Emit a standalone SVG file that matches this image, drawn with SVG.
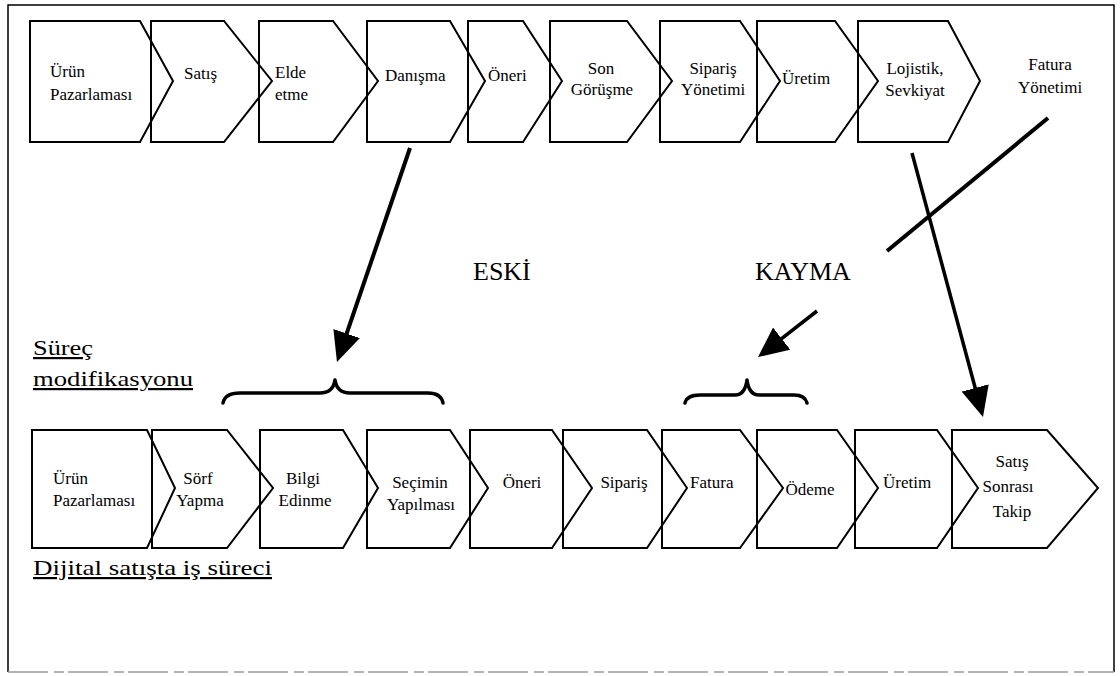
<svg xmlns="http://www.w3.org/2000/svg" width="1120" height="676" viewBox="0 0 1120 676">
<style>
.chev{fill:none;stroke:#000;stroke-width:2;stroke-linejoin:miter}
.t{font-family:"Liberation Serif","DejaVu Serif","Times New Roman",serif;font-size:17px;fill:#000}
.m{text-anchor:middle}
.big{font-family:"Liberation Serif","DejaVu Serif","Times New Roman",serif;font-size:26px;fill:#000}
.lab{font-family:"Liberation Serif","DejaVu Serif","Times New Roman",serif;font-size:22px;fill:#000;text-decoration:underline}
.arr{stroke:#000;fill:none;stroke-linecap:butt}
.brace{fill:none;stroke:#000;stroke-width:3.5;stroke-linecap:round;stroke-linejoin:round}
</style>
<defs>
<marker id="ah" markerUnits="userSpaceOnUse" markerWidth="30" markerHeight="28" refX="20" refY="14" orient="auto" viewBox="0 0 30 28">
<path d="M0,0 L30,14 L0,28 z" fill="#000"/>
</marker>
</defs>
<rect x="0" y="0" width="1120" height="676" fill="#fff"/>
<path d="M8,672 L8,5 L1114,5 L1114,672" fill="none" stroke="#000" stroke-width="1.5"/>
<line x1="8" y1="672" x2="1114" y2="672" stroke="#999" stroke-width="1.5" stroke-dasharray="40,6,10,4"/>

<!-- top row -->
<g id="t1"><path class="chev" d="M30,21 L140,21 L173,81 L140,142 L30,142 Z"/><text class="t" x="50" y="77">Ürün</text><text class="t" x="50" y="100">Pazarlaması</text></g>
<g id="t2"><path class="chev" d="M151,21 L224,21 L272,81 L224,142 L151,142 Z"/><text class="t" x="184" y="79">Satış</text></g>
<g id="t3"><path class="chev" d="M259,21 L333,21 L378,81 L333,142 L259,142 Z"/><text class="t" x="275" y="78">Elde</text><text class="t" x="275" y="100">etme</text></g>
<g id="t4"><path class="chev" d="M367,21 L450,21 L485,81 L450,142 L367,142 Z"/><text class="t" x="385" y="81">Danışma</text></g>
<g id="t5"><path class="chev" d="M468,21 L523,21 L562,81 L523,142 L468,142 Z"/><text class="t" x="488" y="81">Öneri</text></g>
<g id="t6"><path class="chev" d="M550,21 L627,21 L672,81 L627,142 L550,142 Z"/><text class="t m" x="601" y="74">Son</text><text class="t m" x="602" y="95">Görüşme</text></g>
<g id="t7"><path class="chev" d="M660,21 L740,21 L780,81 L740,142 L660,142 Z"/><text class="t m" x="713" y="74">Sipariş</text><text class="t m" x="713" y="95">Yönetimi</text></g>
<g id="t8"><path class="chev" d="M757,21 L835,21 L878,81 L835,142 L757,142 Z"/><text class="t" x="782" y="84">Üretim</text></g>
<g id="t9"><path class="chev" d="M858,21 L948,21 L980,81 L948,142 L858,142 Z"/><text class="t m" x="915" y="74">Lojistik,</text><text class="t m" x="915" y="96">Sevkiyat</text></g>
<g id="t10"><text class="t m" x="1050" y="70">Fatura</text><text class="t m" x="1050" y="93">Yönetimi</text></g>

<!-- bottom row -->
<g id="b1"><path class="chev" d="M32,430 L147,430 L175,488 L147,548 L32,548 Z"/><text class="t" x="53" y="484">Ürün</text><text class="t" x="53" y="506">Pazarlaması</text></g>
<g id="b2"><path class="chev" d="M152,430 L227,430 L273,488 L227,548 L152,548 Z"/><text class="t m" x="198" y="484">Sörf</text><text class="t m" x="200" y="506">Yapma</text></g>
<g id="b3"><path class="chev" d="M260,430 L343,430 L378,488 L343,548 L260,548 Z"/><text class="t m" x="303" y="484">Bilgi</text><text class="t m" x="305" y="506">Edinme</text></g>
<g id="b4"><path class="chev" d="M367,430 L450,430 L488,488 L450,548 L367,548 Z"/><text class="t m" x="420" y="488">Seçimin</text><text class="t m" x="421" y="510">Yapılması</text></g>
<g id="b5"><path class="chev" d="M470,430 L552,430 L592,488 L552,548 L470,548 Z"/><text class="t m" x="522" y="488">Öneri</text></g>
<g id="b6"><path class="chev" d="M563,430 L647,430 L687,488 L647,548 L563,548 Z"/><text class="t m" x="624" y="488">Sipariş</text></g>
<g id="b7"><path class="chev" d="M662,430 L740,430 L783,488 L740,548 L662,548 Z"/><text class="t" x="690" y="488">Fatura</text></g>
<g id="b8"><path class="chev" d="M757,430 L837,430 L878,488 L837,548 L757,548 Z"/><text class="t m" x="810" y="495">Ödeme</text></g>
<g id="b9"><path class="chev" d="M855,430 L937,430 L978,488 L937,548 L855,548 Z"/><text class="t" x="883" y="488">Üretim</text></g>
<g id="b10"><path class="chev" d="M952,430 L1047,430 L1098,488 L1047,548 L952,548 Z"/><text class="t m" x="1012" y="467">Satış</text><text class="t m" x="1008" y="492">Sonrası</text><text class="t m" x="1012" y="517">Takip</text></g>

<!-- labels -->
<g id="labels">
<text class="lab" x="33" y="355" textLength="60" lengthAdjust="spacingAndGlyphs">Süreç</text>
<text class="lab" x="33" y="386" textLength="160" lengthAdjust="spacingAndGlyphs">modifikasyonu</text>
<text class="lab" x="33" y="575" textLength="239" lengthAdjust="spacingAndGlyphs">Dijital satışta iş süreci</text>
<text class="big" x="473" y="280">ESKİ</text>
<text class="big" x="755" y="280">KAYMA</text>
</g>

<!-- braces -->
<g id="braces">
<path class="brace" d="M223,403 Q225,393 240,393 L320,393 Q333,393 335,380 Q337,393 350,393 L428,393 Q441,393 443,403"/>
<path class="brace" d="M685,403 Q687,395 700,395 L735,395 Q745,395 747,380 Q749,395 759,395 L794,395 Q805,395 807,403"/>
</g>

<!-- connectors -->
<g id="connectors">
<line class="arr" x1="410" y1="148" x2="340.2" y2="352.5" stroke-width="4" marker-end="url(#ah)"/>
<line class="arr" x1="912" y1="153" x2="980.4" y2="407.3" stroke-width="3.5" marker-end="url(#ah)"/>
<line class="arr" x1="1048" y1="118" x2="887" y2="251" stroke-width="4"/>
<line class="arr" x1="817" y1="311" x2="765.9" y2="350.9" stroke-width="3.5" marker-end="url(#ah)"/>
</g>
</svg>
